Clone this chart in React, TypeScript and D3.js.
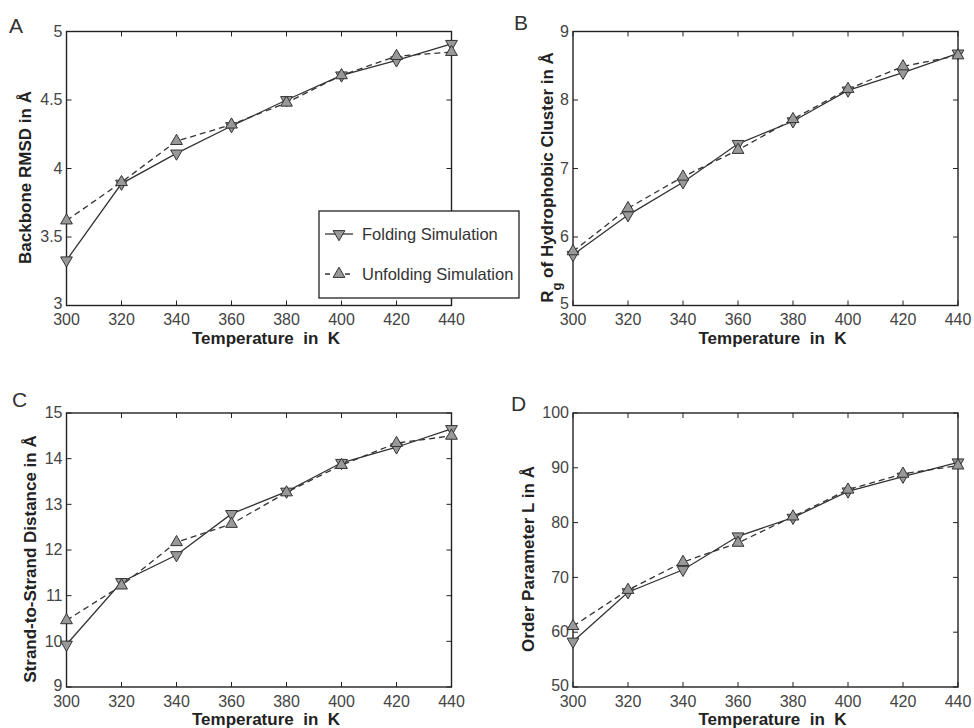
import React from "react";
import * as d3 from "d3";

const temps = [300, 320, 340, 360, 380, 400, 420, 440];

const rmsdFold = [3.33, 3.89, 4.11, 4.31, 4.5, 4.68, 4.79, 4.91];
const rmsdUnfold = [3.62, 3.9, 4.2, 4.32, 4.48, 4.68, 4.82, 4.85];
const rgFold = [5.74, 6.32, 6.8, 7.36, 7.69, 8.14, 8.4, 8.68];
const rgUnfold = [5.79, 6.42, 6.88, 7.27, 7.72, 8.16, 8.49, 8.65];
const strandFold = [9.93, 11.3, 11.89, 12.79, 13.28, 13.91, 14.25, 14.65];
const strandUnfold = [10.46, 11.22, 12.17, 12.57, 13.26, 13.86, 14.34, 14.5];
const orderFold = [58.3, 67.3, 71.4, 77.5, 80.9, 85.7, 88.4, 91.0];
const orderUnfold = [61.1, 67.7, 72.8, 76.3, 81.1, 86.0, 88.9, 90.4];

const xTicks = [300, 320, 340, 360, 380, 400, 420, 440];
const rmsdTicks = [3, 3.5, 4, 4.5, 5];
const rgTicks = [5, 6, 7, 8, 9];
const strandTicks = [9, 10, 11, 12, 13, 14, 15];
const orderTicks = [50, 60, 70, 80, 90, 100];

const seriesNames = ["Folding Simulation", "Unfolding Simulation"];

const FONT = "'Liberation Sans', Arial, Helvetica, sans-serif";
const AXIS = "#222";
const LINE = "#333";
const MFILL = "#999";

const triUp = d3.symbol().type(d3.symbolTriangle).size(60)() as string;

type PanelProps = {
  letter: string;
  left: number;
  top: number;
  width: number;
  height: number;
  yDomain: [number, number];
  yTicks: number[];
  fold: number[];
  unfold: number[];
  ylabel: React.ReactNode;
  ylabelOffset: number;
  letterPos: [number, number];
};

function Marker({ x, y, down }: { x: number; y: number; down: boolean }) {
  return (
    <path
      d={triUp}
      transform={`translate(${x},${y}) rotate(${down ? 180 : 0})`}
      fill={MFILL}
      stroke={LINE}
      strokeWidth={1}
    />
  );
}

function Panel(p: PanelProps) {
  const x = d3.scaleLinear().domain([300, 440]).range([p.left, p.left + p.width]);
  const y = d3.scaleLinear().domain(p.yDomain).range([p.top + p.height, p.top]);
  const line = d3
    .line<number>()
    .x((_, i) => x(temps[i]))
    .y((d) => y(d));
  const bottom = p.top + p.height;
  const right = p.left + p.width;
  const tl = 5;
  return (
    <g>
      <text x={p.letterPos[0]} y={p.letterPos[1]} fontFamily={FONT} fontSize={21} fill="#333">
        {p.letter}
      </text>
      {xTicks.map((t) => (
        <g key={"x" + t}>
          <line x1={x(t)} x2={x(t)} y1={bottom} y2={bottom - tl} stroke={AXIS} />
          <line x1={x(t)} x2={x(t)} y1={p.top} y2={p.top + tl} stroke={AXIS} />
          <text x={x(t)} y={bottom + 19.5} textAnchor="middle" fontFamily={FONT} fontSize={16} fill="#444">
            {t}
          </text>
        </g>
      ))}
      {p.yTicks.map((t, i) => (
        <g key={"y" + t}>
          <line x1={p.left} x2={p.left + tl} y1={y(t)} y2={y(t)} stroke={AXIS} />
          <line x1={right} x2={right - tl} y1={y(t)} y2={y(t)} stroke={AXIS} />
          <text
            x={p.left - 4}
            y={y(t) - (i === 0 ? 1.5 : 0)}
            dy="0.33em"
            textAnchor="end"
            fontFamily={FONT}
            fontSize={16}
            fill="#444"
          >
            {t}
          </text>
        </g>
      ))}
      <rect x={p.left} y={p.top} width={p.width} height={p.height} fill="none" stroke={AXIS} strokeWidth={1.4} />
      <path d={line(p.unfold) as string} fill="none" stroke={LINE} strokeWidth={1.3} strokeDasharray="6,4" />
      <path d={line(p.fold) as string} fill="none" stroke={LINE} strokeWidth={1.3} />
      {p.fold.map((v, i) => (
        <Marker key={"f" + i} x={x(temps[i])} y={y(v)} down={true} />
      ))}
      {p.unfold.map((v, i) => (
        <Marker key={"u" + i} x={x(temps[i])} y={y(v)} down={false} />
      ))}
      <text
        x={(p.left + right) / 2 + 7}
        y={bottom + 38}
        textAnchor="middle"
        fontFamily={FONT}
        fontSize={17}
        fontWeight="bold"
        fill="#222"
        style={{ whiteSpace: "pre" }}
      >
        {"Temperature  in  K"}
      </text>
      <text
        transform={`translate(${p.left - p.ylabelOffset},${p.top + p.height / 2 + 9}) rotate(-90)`}
        dy="0.36em"
        textAnchor="middle"
        fontFamily={FONT}
        fontSize={17}
        fontWeight="bold"
        fill="#222"
      >
        {p.ylabel}
      </text>
    </g>
  );
}

export default function App() {
  const W = 385;
  const H = 274;
  return (
    <svg
      width={974}
      height={728}
      style={{ position: "absolute", left: 0, top: 0, background: "#fff" }}
    >
      <rect x={0} y={0} width={974} height={728} fill="#fff" />
      <Panel
        letter="A"
        left={66.5}
        top={31.5}
        width={W}
        height={H}
        yDomain={[3, 5]}
        yTicks={rmsdTicks}
        fold={rmsdFold}
        unfold={rmsdUnfold}
        ylabel="Backbone RMSD in Å"
        ylabelOffset={41.5}
        letterPos={[9, 33]}
      />
      <Panel
        letter="B"
        left={573}
        top={31.5}
        width={W}
        height={H}
        yDomain={[5, 9]}
        yTicks={rgTicks}
        fold={rgFold}
        unfold={rgUnfold}
        ylabel={
          <>
            R<tspan baselineShift="sub" fontSize={13}>g</tspan> of Hydrophobic Cluster in Å
          </>
        }
        ylabelOffset={26}
        letterPos={[514, 30]}
      />
      <Panel
        letter="C"
        left={66.5}
        top={413}
        width={W}
        height={H}
        yDomain={[9, 15]}
        yTicks={strandTicks}
        fold={strandFold}
        unfold={strandUnfold}
        ylabel="Strand-to-Strand Distance in Å"
        ylabelOffset={36.5}
        letterPos={[12, 407]}
      />
      <Panel
        letter="D"
        left={573}
        top={413}
        width={W}
        height={H}
        yDomain={[50, 100]}
        yTicks={orderTicks}
        fold={orderFold}
        unfold={orderUnfold}
        ylabel="Order Parameter L in Å"
        ylabelOffset={45}
        letterPos={[511, 411]}
      />
      <g>
        <rect x={319} y={211} width={200} height={87} fill="#fff" stroke={AXIS} strokeWidth={1.3} />
        <line x1={325} x2={353} y1={234} y2={234} stroke={LINE} strokeWidth={1.3} />
        <Marker x={339} y={234} down={true} />
        <text x={362} y={234} dy="0.36em" fontFamily={FONT} fontSize={16.5} fill="#333">
          {seriesNames[0]}
        </text>
        <line x1={325} x2={353} y1={274} y2={274} stroke={LINE} strokeWidth={1.3} strokeDasharray="5,5" />
        <Marker x={339} y={274} down={false} />
        <text x={362} y={274} dy="0.36em" fontFamily={FONT} fontSize={16.5} fill="#333">
          {seriesNames[1]}
        </text>
      </g>
    </svg>
  );
}
